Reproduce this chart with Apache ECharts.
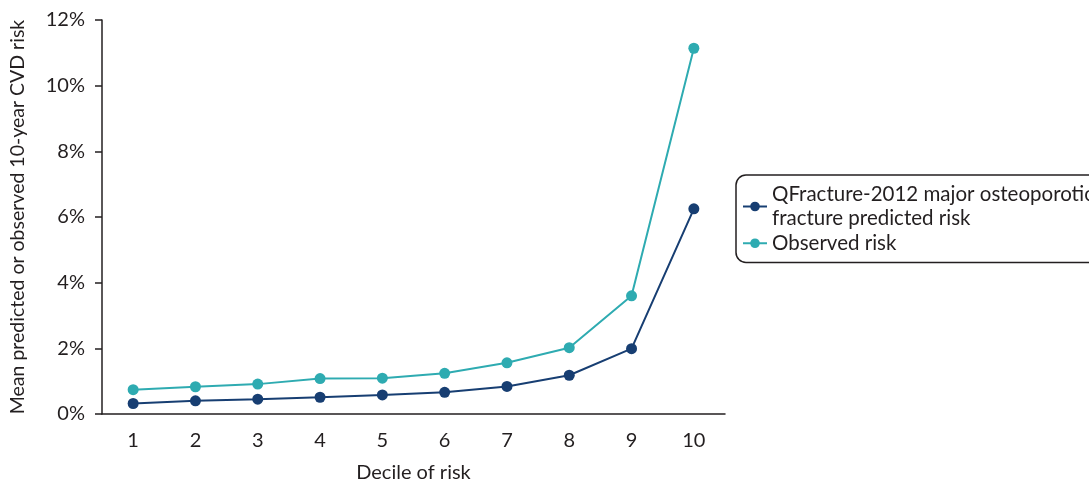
<!DOCTYPE html>
<html><head><meta charset="utf-8">
<script src="https://cdn.jsdelivr.net/npm/echarts@6/dist/echarts.min.js"></script>
<style>html,body{margin:0;padding:0;background:#fff}#c{width:1089px;height:484px}</style>
</head><body><div id="c"></div>
<script>
const categories = ['1','2','3','4','5','6','7','8','9','10'];
const predicted = [0.32, 0.40, 0.45, 0.51, 0.58, 0.66, 0.84, 1.18, 1.99, 6.25];
const observed = [0.74, 0.83, 0.91, 1.08, 1.09, 1.24, 1.56, 2.02, 3.60, 11.14];
const seriesNames = ['QFracture-2012 major osteoporotic\nfracture predicted risk', 'Observed risk'];
const yTicks = { min: 0, max: 12, interval: 2 };

const txt = '#231f20';
const chart = echarts.init(document.getElementById('c'));
chart.setOption({
  animation: false,
  textStyle: { fontFamily: 'Lato', color: txt },
  grid: { left: 102, right: 364, top: 20, bottom: 70, containLabel: false, outerBoundsMode: 'none' },
  legend: {
    orient: 'vertical', left: 736, top: 175,
    data: seriesNames,
    borderColor: '#231f20', borderWidth: 1.5, borderRadius: 10,
    padding: [7, 10, 7, 6],
    itemWidth: 24, itemHeight: 12, itemGap: 0,
    textStyle: { fontFamily: 'Lato', fontSize: 20.5, color: txt, lineHeight: 24.5, padding: [0,0,0,0] }
  },
  xAxis: {
    type: 'category', data: categories, boundaryGap: true,
    name: 'Decile of risk', nameLocation: 'middle', nameGap: 49,
    nameTextStyle: { fontFamily: 'Lato', fontSize: 20, color: txt },
    axisLine: { lineStyle: { color: '#231f20', width: 1.5 } },
    axisTick: { alignWithLabel: true, length: 7, lineStyle: { color: '#231f20', width: 1.5 } },
    axisLabel: { fontFamily: 'Lato', fontSize: 20, color: txt, margin: 17 }
  },
  yAxis: {
    type: 'value', min: yTicks.min, max: yTicks.max, interval: yTicks.interval,
    name: 'Mean predicted or observed 10-year CVD risk', nameLocation: 'middle', nameGap: 74,
    nameTextStyle: { fontFamily: 'Lato', fontSize: 19.5, color: txt },
    splitLine: { show: false },
    axisLine: { show: true, lineStyle: { color: '#231f20', width: 1.5 } },
    axisTick: { show: true, length: 7, lineStyle: { color: '#231f20', width: 1.5 } },
    axisLabel: { fontFamily: 'Lato', fontSize: 20, color: txt, margin: 17, formatter: '{value}%' }
  },
  series: [
    { name: seriesNames[0], type: 'line', data: predicted, symbol: 'circle', symbolSize: 11,
      color: '#173e72', lineStyle: { width: 2, color: '#173e72' }, itemStyle: { color: '#173e72' }, z: 3 },
    { name: seriesNames[1], type: 'line', data: observed, symbol: 'circle', symbolSize: 11,
      color: '#2eabb1', lineStyle: { width: 2, color: '#2eabb1' }, itemStyle: { color: '#2eabb1' }, z: 2 }
  ]
});
</script></body></html>
